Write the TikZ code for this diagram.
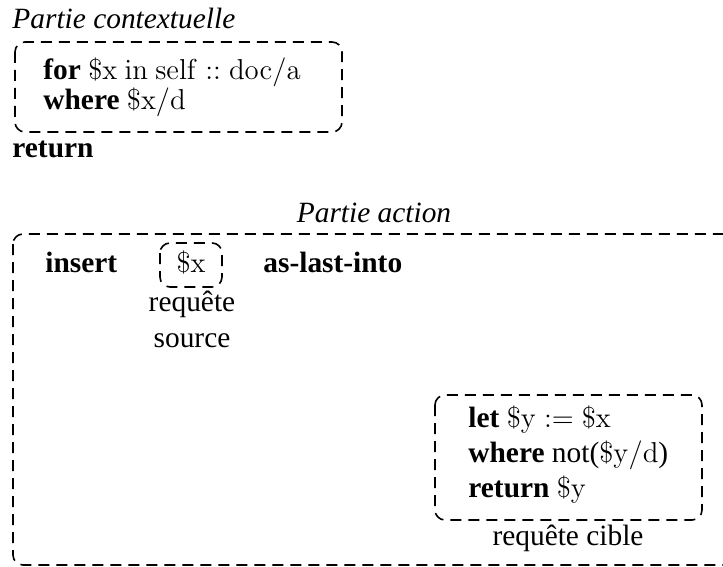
\documentclass[tikz,border=0pt]{standalone}
\usepackage[no-math]{fontspec}
\setmainfont{Liberation Serif}
\begin{document}
\begin{tikzpicture}[x=0.5pt,y=-0.5pt,
  txt/.style={inner sep=0pt,anchor=base west,font=\fontsize{14.7}{18}\selectfont},
  ctxt/.style={inner sep=0pt,anchor=base,font=\fontsize{14.7}{18}\selectfont},
  dbox/.style={draw,line width=0.8pt,dash pattern=on 5.5pt off 3.5pt,rounded corners=5pt}]
\useasboundingbox (0,0) rectangle (723,567);
% Partie contextuelle
\node[txt] (t1) at (12,29) {\itshape Partie contextuelle};
\draw[dbox] (15,42) rectangle (342,132);
\node[txt] (l1) at (43,80) {\textbf{for} $\mathrm{\$x\ in\ self} :: \mathrm{doc/a}$};
\node[txt] (l2) at (43,110) {\textbf{where} $\mathrm{\$x/d}$};
\node[txt] (ret) at (12,157) {\textbf{return}};
% Partie action
\node[ctxt] (t2) at (374,222) {\itshape Partie action};
\draw[dbox] (13,234) rectangle (760,565);
\node[txt] (ins) at (45,272) {\textbf{insert}};
\node[ctxt] (sx) at (191,272) {$\mathrm{\$x}$};
\draw[dbox] (160,243) rectangle (222,287);
\node[txt] (ali) at (263,272) {\textbf{as-last-into}};
\node[ctxt] (rs1) at (192,311) {requête};
\node[ctxt] (rs2) at (192,347) {source};
% requête cible
\draw[dbox] (435,395) rectangle (702,520);
\node[txt] (c1) at (468,427) {\textbf{let} $\mathrm{\$y} := \mathrm{\$x}$};
\node[txt] (c2) at (468,462) {\textbf{where} not($\mathrm{\$y/d}$)};
\node[txt] (c3) at (468,497) {\textbf{return} $\mathrm{\$y}$};
\node[ctxt] (rc) at (568,545) {requête cible};
\end{tikzpicture}
\end{document}
